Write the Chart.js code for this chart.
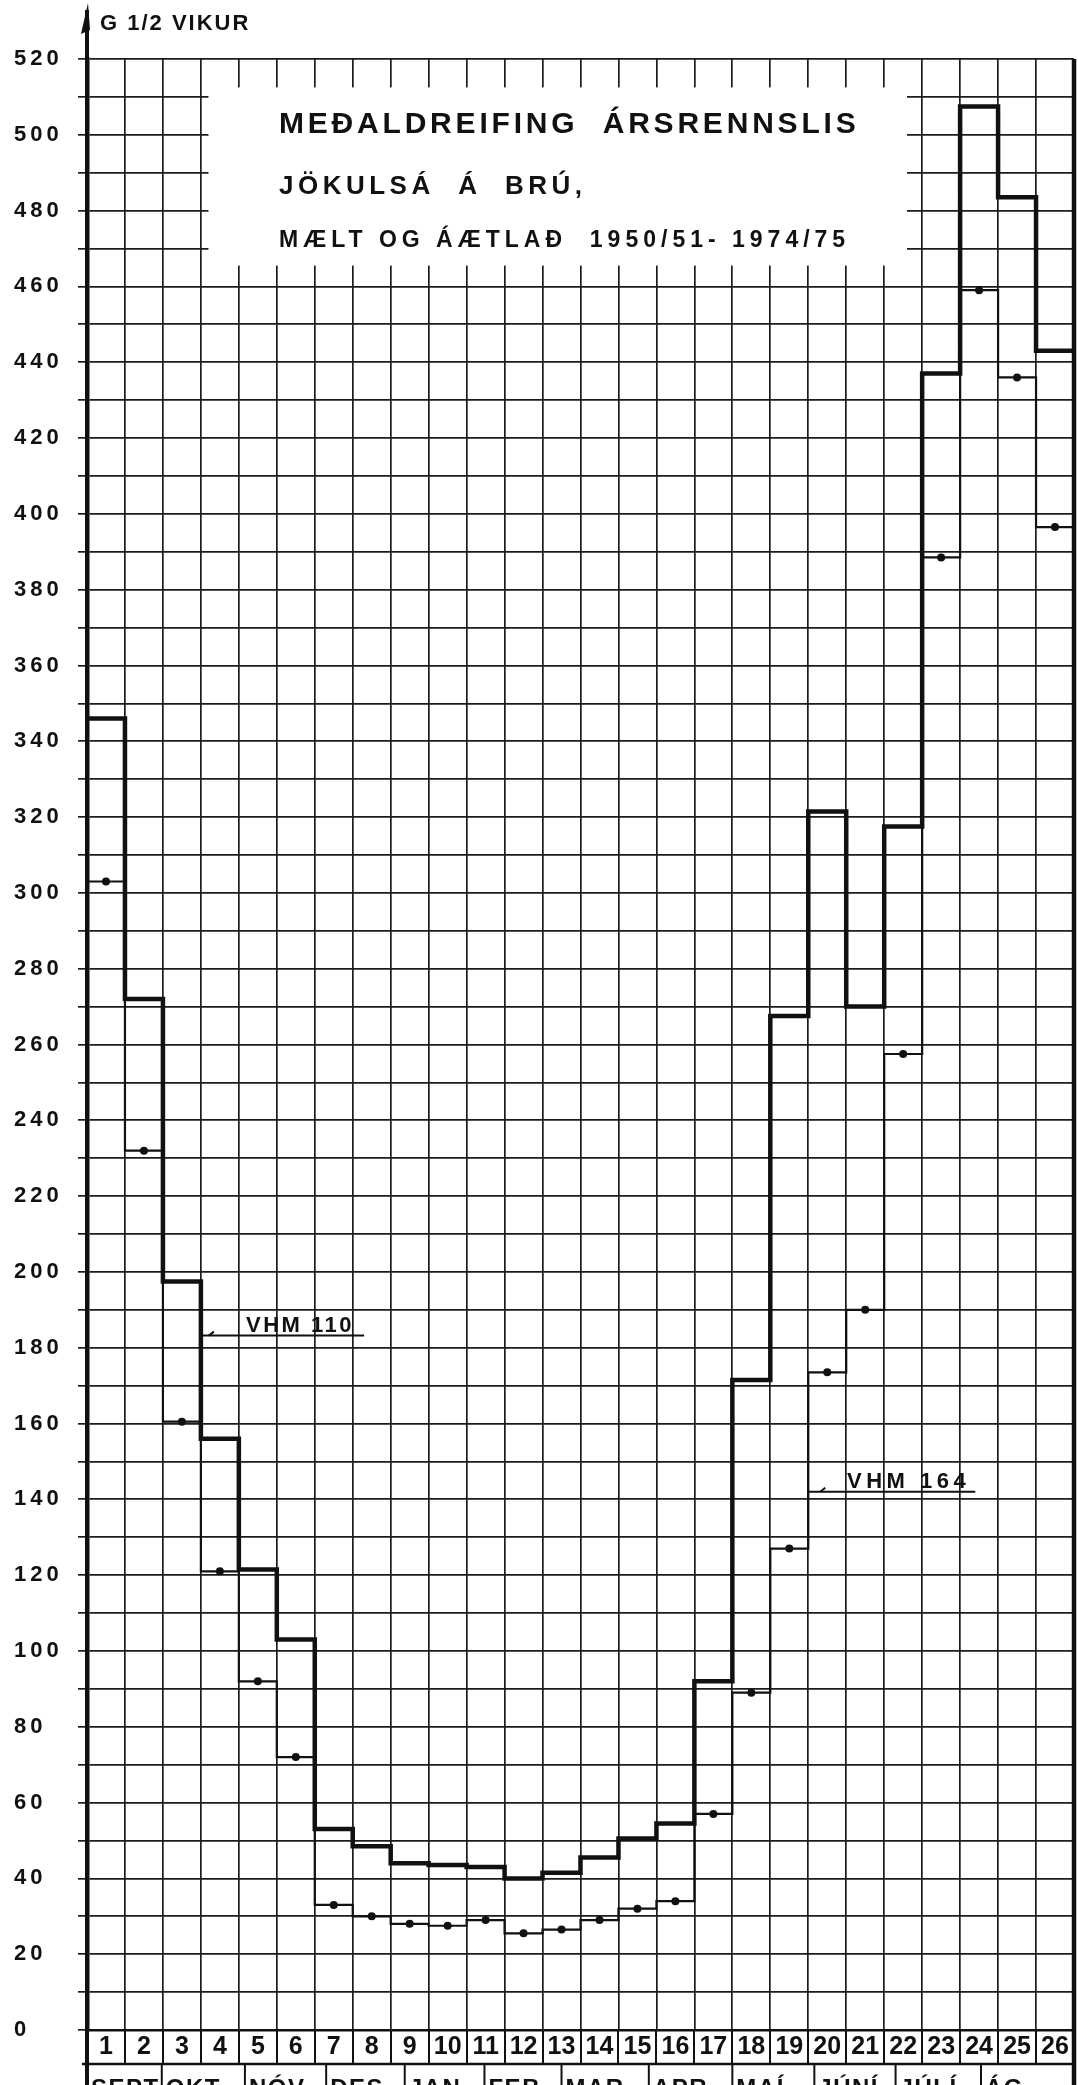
<!DOCTYPE html>
<html><head><meta charset="utf-8">
<style>html,body{margin:0;padding:0;background:#fff;}canvas{display:block;}</style>
<script src="https://cdn.jsdelivr.net/npm/chart.js@4.4.1/dist/chart.umd.min.js"></script>
</head><body>
<canvas id="c" width="1078" height="2085"></canvas>
<script>
// ---- data ----
const weeks = ['1','2','3','4','5','6','7','8','9','10','11','12','13','14','15','16','17','18','19','20','21','22','23','24','25','26'];
const vhm110 = [346, 272, 197.5, 156, 121.5, 103, 53, 48.5, 44, 43.5, 43, 40, 41.5, 45.5, 50.5, 54.5, 92, 171.5, 267.5, 321.5, 270, 317.5, 437, 507.5, 483.5, 443];
const vhm164 = [303, 232, 160.5, 121, 92, 72, 33, 30, 28, 27.5, 29, 25.5, 26.5, 29, 32, 34, 57, 89, 127, 173.5, 190, 257.5, 388.5, 459, 436, 396.5];
const yLabels = [0,20,40,60,80,100,120,140,160,180,200,220,240,260,280,300,320,340,360,380,400,420,440,460,480,500,520];
const months = ['SEPT','OKT','NÓV','DES','JAN','FEB','MAR','APR','MAÍ','JÚNÍ','JÚLÍ','ÁG'];
const monthEdges = [0, 1.97, 4.16, 6.3, 8.37, 10.47, 12.5, 14.8, 17.0, 19.16, 21.3, 23.55, 26];
const titleLines = ['MEÐALDREIFING  ÁRSRENNSLIS', 'JÖKULSÁ  Á  BRÚ,', 'MÆLT OG ÁÆTLAÐ  1950/51- 1974/75'];
const unitLabel = 'G 1/2 VIKUR';
const seriesNames = ['VHM 110', 'VHM 164'];

// ---- helpers ----
const INK = '#111';
const FONT = "'Liberation Sans', Arial, sans-serif";
function stepPoints(vals){
  const pts = vals.map((v,i)=>({x:i, y:v}));
  pts.push({x:vals.length, y:vals[vals.length-1]});
  return pts;
}
function txt(c, s, x, y, size, ls, align){
  c.save();
  c.font = 'bold ' + size + 'px ' + FONT;
  c.letterSpacing = ls + 'px';
  c.fillStyle = INK;
  c.textAlign = align || 'left';
  c.textBaseline = 'alphabetic';
  c.fillText(s, x, y);
  c.restore();
}
function line(c, x1, y1, x2, y2, w){
  c.save(); c.strokeStyle = INK; c.lineWidth = w; c.lineCap='butt';
  c.beginPath(); c.moveTo(x1,y1); c.lineTo(x2,y2); c.stroke(); c.restore();
}

const decor = {
  id: 'decor',
  beforeDraw(chart){
    const c = chart.ctx;
    c.save(); c.fillStyle = '#fff'; c.fillRect(0,0,chart.width,chart.height); c.restore();
    c.letterSpacing = '4px';
  },
  beforeDatasetsDraw(chart){
    const c = chart.ctx, x = chart.scales.x, y = chart.scales.y;
    // white title panel over the grid
    const l = x.getPixelForValue(3.2), r = x.getPixelForValue(21.6);
    const t = y.getPixelForValue(512.5), b = y.getPixelForValue(465.5);
    c.save(); c.fillStyle = '#fff'; c.fillRect(l, t, r-l, b-t); c.restore();
    txt(c, titleLines[0], 279, 133, 30, 3.8);
    txt(c, titleLines[1], 279, 194, 26, 4.5);
    txt(c, titleLines[2], 279, 247, 23, 5);
  },
  afterDatasetsDraw(chart){
    chart.ctx.letterSpacing = '0px';
  },
  afterDraw(chart){
    const c = chart.ctx, a = chart.chartArea, x = chart.scales.x, y = chart.scales.y;
    // right border
    line(c, a.right, a.top, a.right, chart.height, 4.5);
    // y-axis extension with arrow
    line(c, a.left, a.top, a.left, 10, 4);
    line(c, a.left, a.bottom, a.left, chart.height, 4);
    c.save(); c.fillStyle = INK; c.beginPath();
    c.moveTo(a.left+1, 3); c.lineTo(a.left-6, 34); c.lineTo(a.left+3, 30); c.closePath(); c.fill(); c.restore();
    txt(c, unitLabel, 100, 30, 22, 2);
    // number-row bottom and month row
    const rowY = a.bottom + 34;
    line(c, a.left-5, rowY, a.right, rowY, 2.5);
    for (let i = 1; i < monthEdges.length-1; i++){
      const px = x.getPixelForValue(monthEdges[i]);
      line(c, px, rowY, px, chart.height, 2);
    }
    c.save();
    c.font = 'bold 24px ' + FONT; c.letterSpacing = '1.5px';
    c.fillStyle = INK; c.textAlign = 'left'; c.textBaseline = 'top';
    months.forEach((m,i)=>{
      const lx = x.getPixelForValue(monthEdges[i]) + 4;
      c.fillText(m, lx, rowY + 13);
    });
    c.restore();
    // series annotations
    let lx = x.getPixelForValue(3), ly = y.getPixelForValue(183.2);
    line(c, lx, ly, x.getPixelForValue(7.3), ly, 2);
    line(c, lx+8, ly, lx+13, ly-4, 2);
    txt(c, seriesNames[0], 246, ly-4, 22, 2.5);
    lx = x.getPixelForValue(19); ly = y.getPixelForValue(142);
    line(c, lx, ly, x.getPixelForValue(23.4), ly, 2);
    line(c, lx+12, ly, lx+17, ly-4, 2);
    txt(c, seriesNames[1], 847, ly-4, 22, 4.5);
  }
};

new Chart(document.getElementById('c'), {
  type: 'line',
  data: {
    datasets: [
      { label: seriesNames[0], data: stepPoints(vhm110), stepped: true, borderColor: INK, borderWidth: 4.5,
        pointRadius: 0, fill: false, xAxisID: 'x', yAxisID: 'y', clip: false },
      { label: seriesNames[1], data: stepPoints(vhm164), stepped: true, borderColor: INK, borderWidth: 2.2,
        pointRadius: 0, fill: false, xAxisID: 'x', yAxisID: 'y', clip: false },
      { label: seriesNames[1] + ' points', data: vhm164.map((v,i)=>({x:i+0.5, y:v})), showLine: false,
        pointRadius: 4, pointBackgroundColor: INK, pointBorderColor: INK, pointBorderWidth: 0,
        xAxisID: 'x', yAxisID: 'y', clip: false }
    ]
  },
  options: {
    responsive: false,
    devicePixelRatio: 1,
    animation: false,
    layout: { padding: { left: 14, top: 59, right: 3, bottom: 0 } },
    plugins: { legend: { display: false }, tooltip: { enabled: false } },
    scales: {
      x: {
        type: 'linear', min: 0, max: 26, position: 'bottom',
        ticks: { display: false, stepSize: 1 },
        grid: { color: '#1c1c1c', lineWidth: 1.7, drawTicks: false },
        border: { display: true, color: INK, width: 2.5 },
        afterFit(s){ s.height = 0; }
      },
      wk: {
        type: 'category', labels: weeks, position: 'bottom', offset: true,
        grid: { offset: true, drawOnChartArea: false, drawTicks: true, tickLength: 34, color: INK, lineWidth: 2 },
        border: { display: false },
        ticks: { padding: -32, color: INK, maxRotation: 0, autoSkip: false, z: 1,
                 font: { family: FONT, size: 25, weight: 'bold' } },
        afterFit(s){ s.height = 55; }
      },
      y: {
        type: 'linear', min: 0, max: 520,
        ticks: { stepSize: 10, autoSkip: false, crossAlign: 'far', padding: 0, color: INK,
                 font: { family: FONT, size: 22, weight: 'bold' },
                 callback: (v)=> yLabels.includes(v) ? String(v) : '' },
        grid: { color: '#1c1c1c', lineWidth: 1.7, tickLength: 9 },
        border: { color: INK, width: 4.5 },
        afterFit(s){ s.width = 73; }
      }
    }
  },
  plugins: [decor]
});
</script>
</body></html>
